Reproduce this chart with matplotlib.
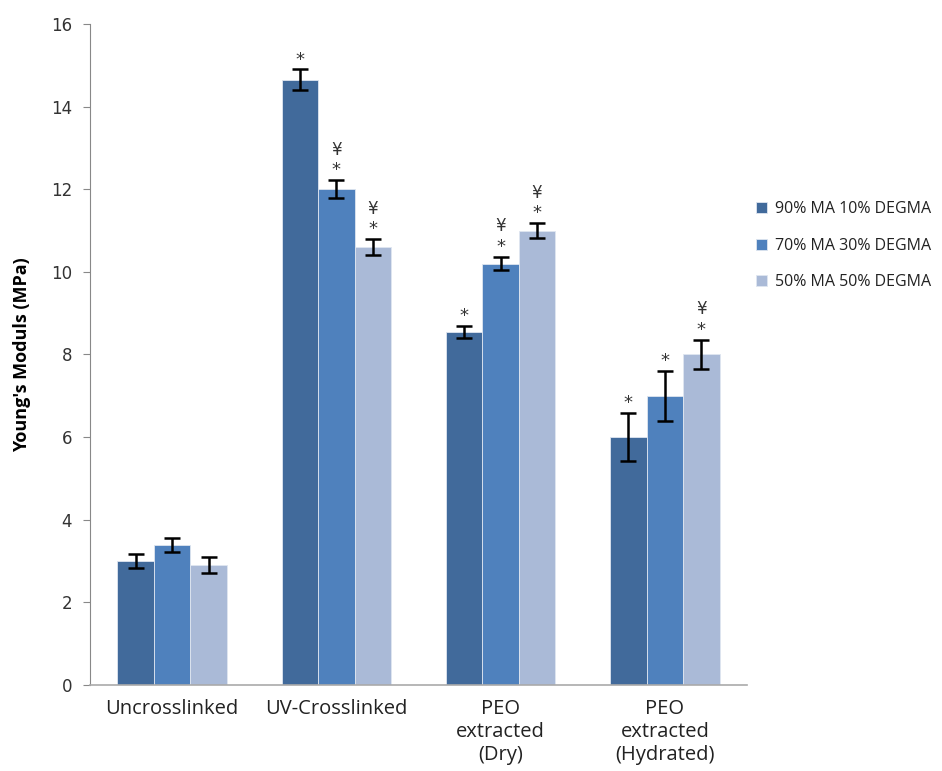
import numpy as np
import matplotlib.pyplot as plt

categories = ['Uncrosslinked', 'UV-Crosslinked', 'PEO\nextracted\n(Dry)', 'PEO\nextracted\n(Hydrated)']
series_names = ['90% MA 10% DEGMA', '70% MA 30% DEGMA', '50% MA 50% DEGMA']

ma90 = [3.0, 14.65, 8.55, 6.0]
ma70 = [3.4, 12.0, 10.2, 7.0]
ma50 = [2.9, 10.6, 11.0, 8.0]

ma90_err = [0.16, 0.25, 0.14, 0.58]
ma70_err = [0.17, 0.22, 0.16, 0.60]
ma50_err = [0.19, 0.19, 0.18, 0.36]

# significance marks per bar: '*' and '¥'
ma90_sig = ['', '*', '*', '*']
ma70_sig = ['', '*¥', '*¥', '*']
ma50_sig = ['', '*¥', '*¥', '*¥']

colors = ['#416A9B', '#4F81BD', '#AABAD7']

fig = plt.figure(figsize=(9.42, 7.71), dpi=100)
ax = fig.add_axes([0.0955, 0.1115, 0.6975, 0.8575])

x = np.arange(len(categories))
w = 0.222
vals = [ma90, ma70, ma50]
errs = [ma90_err, ma70_err, ma50_err]
sigs = [ma90_sig, ma70_sig, ma50_sig]

for i in range(3):
    xs = x + (i - 1) * w
    ax.bar(xs, vals[i], w, color=colors[i], edgecolor='#dfe6f0', linewidth=0.6,
           label=series_names[i], zorder=2)
    ax.errorbar(xs, vals[i], yerr=errs[i], fmt='none', ecolor='black',
                elinewidth=1.8, capsize=5.5, capthick=1.8, zorder=3)
    for xi, v, e, s in zip(xs, vals[i], errs[i], sigs[i]):
        if '*' in s:
            ax.annotate('*', (xi, v + e), xytext=(0, 7), textcoords='offset points',
                        ha='center', va='center', fontsize=13, color='#333333')
        if '¥' in s:
            ax.annotate('¥', (xi, v + e), xytext=(0, 22), textcoords='offset points',
                        ha='center', va='center', fontsize=12, color='#333333')

ax.set_xlim(-0.5, 3.5)
ax.set_ylim(0, 16)
ax.set_yticks(np.arange(0, 17, 2))
ax.set_yticklabels([str(t) for t in range(0, 17, 2)], fontsize=12, color='#333333')
ax.set_xticks(x)
ax.set_xticklabels(categories, fontsize=14.5, family='Open Sans', color='#222222',
                   linespacing=1.2)
ax.tick_params(axis='x', length=0, pad=10)
ax.tick_params(axis='y', length=5, color='#888888', direction='out', pad=8)

for side in ['top', 'right']:
    ax.spines[side].set_visible(False)
ax.spines['left'].set_color('#888888')
ax.spines['bottom'].set_color('#aaaaaa')
ax.spines['bottom'].set_linewidth(1.2)

ax.set_ylabel("Young's Moduls (MPa)", fontsize=13, fontweight='bold', family='Open Sans',
              labelpad=14)

leg = fig.legend(loc='upper left', bbox_to_anchor=(0.787, 0.758), frameon=False,
                 prop={'family': 'Open Sans', 'size': 11.5}, handlelength=0.7,
                 handleheight=0.7, handletextpad=0.5, labelspacing=1.3)
for t in leg.get_texts():
    t.set_color('#222222')

fig.savefig('out.png', dpi=100)
